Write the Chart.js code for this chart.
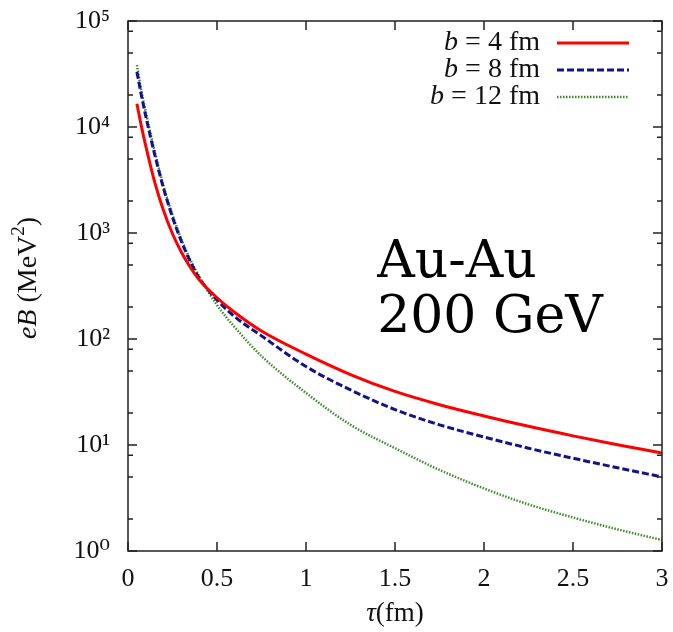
<!DOCTYPE html>
<html>
<head>
<meta charset="utf-8">
<script src="https://cdn.jsdelivr.net/npm/chart.js@4.4.1/dist/chart.umd.min.js"></script>
<style>
  html, body { margin: 0; padding: 0; background: #fff; }
  #wrap { width: 673px; height: 632px; }
</style>
</head>
<body>
<div id="wrap"><canvas id="fieldchart" width="673" height="632"></canvas></div>
<script>
// proper time tau (fm)
const tau = [0.05, 0.075, 0.1, 0.15, 0.2, 0.25, 0.3, 0.35, 0.4, 0.5, 0.6, 0.75, 1, 1.25, 1.5, 1.75, 2, 2.25, 2.5, 2.75, 3];

// eB (MeV^2) for each impact parameter
const eB_b4  = [16600, 10200, 6600, 3020, 1620, 984, 658, 475, 362, 245, 178, 119, 72, 46.2, 32, 24, 18.8, 15, 12.2, 10.05, 8.4];
const eB_b8  = [33100, 19950, 12600, 5500, 2630, 1410, 832, 537, 376, 234, 162, 107, 55, 33.1, 21.6, 15.5, 11.9, 9.33, 7.5, 6.1, 5.0];
const eB_b12 = [38500, 21900, 13800, 5890, 2750, 1480, 871, 562, 389, 209, 129, 69, 31, 15.5, 9.33, 5.82, 3.89, 2.75, 2.07, 1.6, 1.27];

const seriesLabels = ['b = 4 fm', 'b = 8 fm', 'b = 12 fm'];
const xTicks = [0, 0.5, 1, 1.5, 2, 2.5, 3];
const yDecades = [0, 1, 2, 3, 4, 5];
const yMinor = [2, 5, 8];

const sup = ['\u2070', '\u00b9', '\u00b2', '\u00b3', '\u2074', '\u2075'];
const serif = '"Liberation Serif", "DejaVu Serif", serif';

function pts(vals) {
  return tau.map((t, i) => ({ x: t, y: vals[i] }));
}

function noPad(s) {
  s.paddingLeft = 0; s.paddingRight = 0;
  s.paddingTop = 0; s.paddingBottom = 0;
}

// frame, inward ticks (mirrored), legend, titles and the Au-Au note
const decor = {
  id: 'decor',
  afterDraw(chart) {
    const ctx = chart.ctx;
    const a = chart.chartArea;
    const xs = chart.scales.x, ys = chart.scales.y;
    ctx.save();
    ctx.strokeStyle = '#222';
    ctx.lineWidth = 1.5;
    ctx.strokeRect(a.left, a.top, a.right - a.left, a.bottom - a.top);

    ctx.beginPath();
    xTicks.forEach(v => {
      const px = xs.getPixelForValue(v);
      ctx.moveTo(px, a.bottom); ctx.lineTo(px, a.bottom - 9);
      ctx.moveTo(px, a.top); ctx.lineTo(px, a.top + 9);
    });
    ys.ticks.forEach(t => {
      const py = ys.getPixelForValue(t.value);
      const len = t.major ? 9 : 5;
      ctx.moveTo(a.left, py); ctx.lineTo(a.left + len, py);
      ctx.moveTo(a.right, py); ctx.lineTo(a.right - len, py);
    });
    ctx.stroke();

    // legend
    const textRight = a.right - 122;
    const lineL = a.right - 105, lineR = a.right - 33;
    ctx.textBaseline = 'middle';
    chart.data.datasets.forEach((ds, i) => {
      const y = a.top + 22 + i * 27;
      const first = ds.label.charAt(0);
      const rest = ds.label.slice(1);
      ctx.font = '28px ' + serif;
      const wRest = ctx.measureText(rest).width;
      ctx.font = 'italic 28px ' + serif;
      const wFirst = ctx.measureText(first).width;
      ctx.fillStyle = '#111';
      ctx.textAlign = 'left';
      ctx.fillText(first, textRight - wRest - wFirst, y);
      ctx.font = '28px ' + serif;
      ctx.fillText(rest, textRight - wRest, y);
      ctx.beginPath();
      ctx.strokeStyle = ds.borderColor;
      ctx.lineWidth = ds.borderWidth;
      ctx.setLineDash(ds.borderDash || []);
      ctx.moveTo(lineL, y); ctx.lineTo(lineR, y);
      ctx.stroke();
      ctx.setLineDash([]);
    });

    // y title: eB (MeV^2)
    ctx.save();
    ctx.translate(29, 278);
    ctx.rotate(-Math.PI / 2);
    const parts = [
      ['italic 28px ' + serif, 'eB', 0],
      ['28px ' + serif, ' (MeV', 0],
      ['19px ' + serif, '2', -10],
      ['28px ' + serif, ')', 0]
    ];
    let total = 0;
    parts.forEach(p => { ctx.font = p[0]; total += ctx.measureText(p[1]).width; });
    let cx = -total / 2;
    ctx.fillStyle = '#111';
    ctx.textAlign = 'left';
    parts.forEach(p => {
      ctx.font = p[0];
      ctx.fillText(p[1], cx, p[2]);
      cx += ctx.measureText(p[1]).width;
    });
    ctx.restore();

    // x title: tau(fm)
    ctx.font = 'italic 27px ' + serif;
    const wt = ctx.measureText('\u03c4').width;
    ctx.font = '27px ' + serif;
    const wf = ctx.measureText('(fm)').width;
    let tx = (a.left + a.right) / 2 - (wt + wf) / 2;
    ctx.font = 'italic 27px ' + serif;
    ctx.fillText('\u03c4', tx, 614);
    ctx.font = '27px ' + serif;
    ctx.fillText('(fm)', tx + wt, 614);

    // collision note
    ctx.font = '52px "DejaVu Serif", serif';
    ctx.textBaseline = 'alphabetic';
    ctx.fillStyle = '#000';
    const nx = xs.getPixelForValue(1.4);
    ctx.fillText('Au-Au', nx, ys.getPixelForValue(385));
    ctx.fillText('200 GeV', nx, ys.getPixelForValue(116));
    ctx.restore();
  }
};

new Chart('fieldchart', {
  type: 'line',
  data: {
    datasets: [{
      label: seriesLabels[0],
      data: pts(eB_b4),
      borderColor: '#ff0000',
      borderWidth: 3
    }, {
      label: seriesLabels[1],
      data: pts(eB_b8),
      borderColor: '#12128c',
      borderWidth: 3,
      borderDash: [7, 3]
    }, {
      label: seriesLabels[2],
      data: pts(eB_b12),
      borderColor: '#3b8b2b',
      borderWidth: 2.5,
      borderDash: [1.5, 1.5]
    }]
  },
  options: {
    responsive: false,
    animation: false,
    layout: { padding: { left: 0, right: 11, top: 21, bottom: 0 } },
    elements: {
      point: { radius: 0 },
      line: { cubicInterpolationMode: 'monotone', fill: false }
    },
    plugins: {
      legend: { display: false },
      tooltip: { enabled: false }
    },
    scales: {
      x: {
        type: 'linear',
        min: 0,
        max: 3,
        grid: { display: false, drawTicks: false },
        border: { display: false },
        afterBuildTicks: s => { s.ticks = xTicks.map(v => ({ value: v })); },
        afterFit: s => { s.height = 81; noPad(s); },
        ticks: {
          padding: 13,
          color: '#111',
          font: { family: serif, size: 26 },
          maxRotation: 0,
          autoSkip: false,
          callback: v => String(v)
        }
      },
      y: {
        type: 'logarithmic',
        min: 1,
        max: 100000,
        grid: { display: false, drawTicks: false },
        border: { display: false },
        afterBuildTicks: s => {
          const t = [];
          yDecades.forEach(e => {
            t.push({ value: Math.pow(10, e), major: true });
            if (e < 5) yMinor.forEach(m => t.push({ value: m * Math.pow(10, e), major: false }));
          });
          s.ticks = t;
        },
        afterFit: s => { s.width = 128; noPad(s); },
        ticks: {
          padding: 18,
          color: '#111',
          autoSkip: false,
          font: { family: serif, size: 26 },
          callback: v => {
            const e = Math.round(Math.log10(v));
            return Math.abs(Math.pow(10, e) - v) < 1e-9 * v ? '10' + sup[e] : '';
          }
        }
      }
    }
  },
  plugins: [decor]
});
</script>
</body>
</html>
